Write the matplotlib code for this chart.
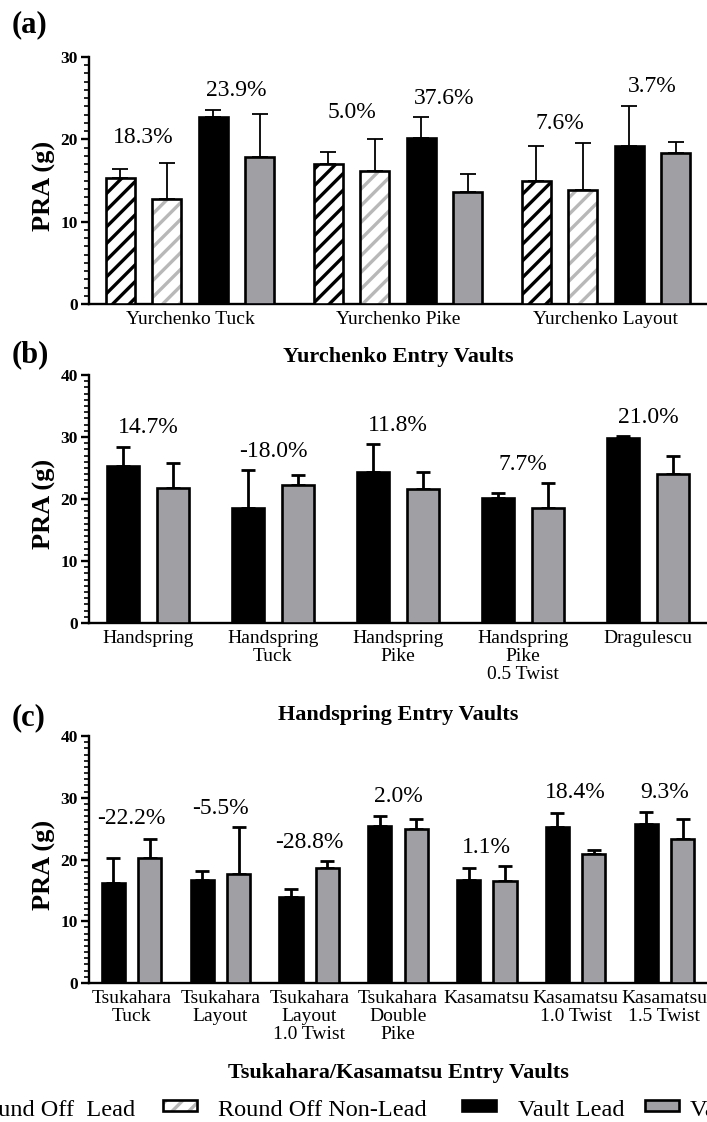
import matplotlib
matplotlib.use('Agg')
import matplotlib.pyplot as plt
import matplotlib.patches as mpatches
from matplotlib.ticker import MultipleLocator
import numpy as np

plt.rcParams['font.family'] = ['Liberation Serif', 'DejaVu Serif']
plt.rcParams['hatch.linewidth'] = 2.4

# (a) Yurchenko entry vaults
yur_groups = ['Yurchenko Tuck', 'Yurchenko Pike', 'Yurchenko Layout']
ro_lead = [15.3, 17.0, 15.0]
ro_lead_sd = [1.1, 1.5, 4.2]
ro_nonlead = [12.7, 16.1, 13.9]
ro_nonlead_sd = [4.4, 3.9, 5.7]
yv_lead = [22.7, 20.2, 19.2]
yv_lead_sd = [0.9, 2.5, 4.9]
yv_nonlead = [17.8, 13.6, 18.3]
yv_nonlead_sd = [5.3, 2.2, 1.4]
ro_pct = ['18.3%', '5.0%', '7.6%']
ro_pct_y = [20.2, 23.2, 21.9]
yv_pct = ['23.9%', '37.6%', '3.7%']
yv_pct_y = [25.9, 25.0, 26.4]

# (b) Handspring entry vaults
hs_groups = ['Handspring', 'Handspring\nTuck', 'Handspring\nPike',
             'Handspring\nPike\n0.5 Twist', 'Dragulescu']
hs_lead = [25.3, 18.6, 24.4, 20.1, 29.8]
hs_lead_sd = [3.1, 6.1, 4.4, 0.8, 0.4]
hs_nonlead = [21.8, 22.3, 21.6, 18.6, 24.0]
hs_nonlead_sd = [4.0, 1.6, 2.8, 3.9, 3.0]
hs_pct = ['14.7%', '-18.0%', '11.8%', '7.7%', '21.0%']
hs_pct_y = [31.6, 27.6, 31.8, 25.6, 33.2]

# (c) Tsukahara / Kasamatsu entry vaults
tk_groups = ['Tsukahara\nTuck', 'Tsukahara\nLayout', 'Tsukahara\nLayout\n1.0 Twist',
             'Tsukahara\nDouble\nPike', 'Kasamatsu', 'Kasamatsu\n1.0 Twist',
             'Kasamatsu\n1.5 Twist']
tk_lead = [16.2, 16.6, 14.0, 25.5, 16.7, 25.2, 25.7]
tk_lead_sd = [4.0, 1.6, 1.2, 1.5, 2.0, 2.3, 2.0]
tk_nonlead = [20.3, 17.6, 18.7, 25.0, 16.5, 20.9, 23.4]
tk_nonlead_sd = [3.0, 7.6, 1.1, 1.5, 2.5, 0.6, 3.1]
tk_pct = ['-22.2%', '-5.5%', '-28.8%', '2.0%', '1.1%', '18.4%', '9.3%']
tk_pct_y = [26.7, 28.3, 22.7, 30.2, 21.9, 30.8, 30.8]

legend_labels = ['Round Off  Lead', 'Round Off Non-Lead', 'Vault Lead', 'Vault Non-Lead']
legend_styles = ['ro_lead', 'ro_nonlead', 'lead', 'nonlead']

GRAY = '#a0a0a4'
HATCH_GRAY = '#b8b8b8'
EDGE_LW = 1.9
PCT_FS = 17


def draw_bars(ax, x, means, sds, style, width, err_lw, cap):
    if style == 'ro_lead':
        ax.bar(x, means, width, color='white', edgecolor='black', hatch='//',
               lw=EDGE_LW, zorder=3)
    elif style == 'ro_nonlead':
        ax.bar(x, means, width, color='white', edgecolor=HATCH_GRAY, hatch='//',
               lw=0, zorder=3)
        ax.bar(x, means, width, fill=False, edgecolor='black', lw=EDGE_LW, zorder=4)
    elif style == 'lead':
        ax.bar(x, means, width, color='black', edgecolor='black', lw=EDGE_LW, zorder=3)
    else:
        ax.bar(x, means, width, color=GRAY, edgecolor='black', lw=EDGE_LW, zorder=3)
    ax.errorbar(x, means, yerr=[np.zeros(len(sds)), sds], fmt='none', ecolor='black',
                elinewidth=err_lw, capsize=cap, capthick=err_lw, zorder=2)


def style_axes(ax, ymax, groups, xlim, title, title_y):
    ax.set_xlim(*xlim)
    ax.set_ylim(0, ymax)
    ax.set_yticks(range(0, ymax + 1, 10))
    ax.yaxis.set_minor_locator(MultipleLocator(1))
    ax.set_xticks(range(len(groups)))
    ax.set_xticklabels(groups, fontsize=14, linespacing=1.08)
    for s in ['top', 'right']:
        ax.spines[s].set_visible(False)
    for s in ['left', 'bottom']:
        ax.spines[s].set_linewidth(1.7)
    ax.tick_params(axis='y', which='major', length=6, width=1.7, labelsize=12.5, pad=2)
    ax.tick_params(axis='y', which='minor', length=3.5, width=1.2)
    ax.tick_params(axis='x', length=0, pad=5)
    for t in ax.get_yticklabels():
        t.set_fontweight('bold')
    ax.set_ylabel('PRA (g)', fontsize=19, fontweight='bold')
    ax.yaxis.set_label_coords(-0.053, 0.48)
    ax.set_xlabel(title, fontsize=16, fontweight='bold')
    ax.xaxis.label.set_va('center')
    ax.xaxis.set_label_coords(0.5, title_y)


fig = plt.figure(figsize=(7.07, 11.22), dpi=100)
W, H = 707.0, 1122.0


def add_axes(top_px, bottom_px):
    return fig.add_axes([89 / W, 1 - bottom_px / H, 1 - 89 / W, (bottom_px - top_px) / H])


# panel (a)
ax = add_axes(57, 304)
x = np.arange(len(yur_groups))
step, bw = 0.2236, 0.14
draw_bars(ax, x - 1.5 * step, ro_lead, ro_lead_sd, 'ro_lead', bw, 1.3, 6)
draw_bars(ax, x - 0.5 * step, ro_nonlead, ro_nonlead_sd, 'ro_nonlead', bw, 1.3, 6)
draw_bars(ax, x + 0.5 * step, yv_lead, yv_lead_sd, 'lead', bw, 1.3, 6)
draw_bars(ax, x + 1.5 * step, yv_nonlead, yv_nonlead_sd, 'nonlead', bw, 1.3, 6)
for i in range(len(yur_groups)):
    ax.text(x[i] - step, ro_pct_y[i], ro_pct[i], ha='center', va='center', fontsize=PCT_FS)
    ax.text(x[i] + step, yv_pct_y[i], yv_pct[i], ha='center', va='center', fontsize=PCT_FS)
style_axes(ax, 30, yur_groups, (-0.486, 2.486), 'Yurchenko Entry Vaults', -0.2146)

# panel (b)
ax = add_axes(375, 623)
x = np.arange(len(hs_groups))
draw_bars(ax, x - 0.2, hs_lead, hs_lead_sd, 'lead', 0.255, 2.0, 5)
draw_bars(ax, x + 0.2, hs_nonlead, hs_nonlead_sd, 'nonlead', 0.255, 2.0, 5)
for i in range(len(hs_groups)):
    ax.text(x[i], hs_pct_y[i], hs_pct[i], ha='center', va='center', fontsize=PCT_FS)
style_axes(ax, 40, hs_groups, (-0.47, 4.47), 'Handspring Entry Vaults', -0.371)

# panel (c)
ax = add_axes(736, 983)
x = np.arange(len(tk_groups))
draw_bars(ax, x - 0.205, tk_lead, tk_lead_sd, 'lead', 0.26, 2.0, 4.7)
draw_bars(ax, x + 0.205, tk_nonlead, tk_nonlead_sd, 'nonlead', 0.26, 2.0, 4.7)
for i in range(len(tk_groups)):
    ax.text(x[i], tk_pct_y[i], tk_pct[i], ha='center', va='center', fontsize=PCT_FS)
style_axes(ax, 40, tk_groups, (-0.48, 6.48), 'Tsukahara/Kasamatsu Entry Vaults', -0.364)

for lab, ypx in [('(a)', 25), ('(b)', 355), ('(c)', 718)]:
    fig.text(12 / W, 1 - ypx / H, lab, fontsize=22, fontweight='bold', ha='left', va='center')

# legend row along the bottom, laid out like the original (wider than the page)
patch_x = [-88, 163, 462, 645]
text_x = [-30, 218, 518, 690]
leg_y, pw, ph = 1105, 34, 11
for lab, st, px, tx in zip(legend_labels, legend_styles, patch_x, text_x):
    rect = [px / W, 1 - (leg_y + ph / 2) / H]
    size = dict(width=pw / W, height=ph / H, transform=fig.transFigure)
    if st == 'ro_lead':
        fig.add_artist(mpatches.Rectangle(rect, facecolor='white', edgecolor='black',
                                          hatch='//', lw=EDGE_LW, **size))
    elif st == 'ro_nonlead':
        fig.add_artist(mpatches.Rectangle(rect, facecolor='white', edgecolor=HATCH_GRAY,
                                          hatch='//', lw=0, **size))
        fig.add_artist(mpatches.Rectangle(rect, fill=False, edgecolor='black',
                                          lw=EDGE_LW, **size))
    elif st == 'lead':
        fig.add_artist(mpatches.Rectangle(rect, facecolor='black', edgecolor='black',
                                          lw=EDGE_LW, **size))
    else:
        fig.add_artist(mpatches.Rectangle(rect, facecolor=GRAY, edgecolor='black',
                                          lw=EDGE_LW, **size))
    fig.text(tx / W, 1 - 1110 / H, lab, fontsize=17.5, ha='left', va='center')

fig.savefig('out.png', dpi=100)
